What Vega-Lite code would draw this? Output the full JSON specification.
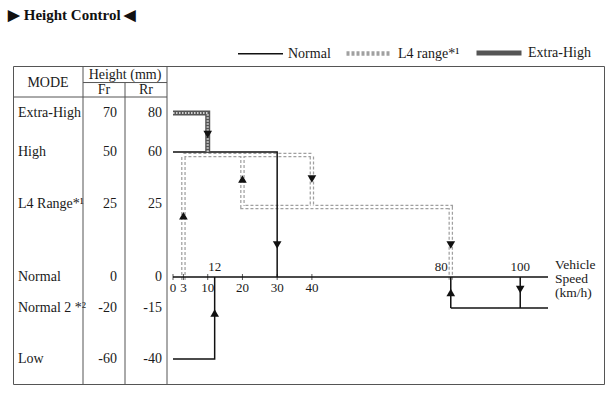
{
  "$schema": "https://vega.github.io/schema/vega-lite/v6.json",
  "width": 591,
  "height": 318,
  "autosize": {"type": "none"},
  "padding": {"left": 13, "top": 66, "right": 10, "bottom": 9},
  "background": "white",
  "title": {"text": "▶ Height Control ◀", "anchor": "start", "frame": "group", "font": "Liberation Serif", "fontSize": 15, "fontWeight": "bold", "color": "#111", "offset": 5, "dx": -5},
  "config": {
    "view": {"stroke": "#555", "strokeWidth": 1},
    "text": {"font": "Liberation Serif", "fontSize": 14, "color": "#1a1a1a", "baseline": "middle"},
    "legend": {"labelFont": "Liberation Serif", "labelFontSize": 14, "labelColor": "#1a1a1a"}
  },
  "datasets": {
    "paths": [
      {"s": "Normal", "p": "ax", "i": 0, "v": 0, "h": 0},
      {"s": "Normal", "p": "ax", "i": 1, "v": 108, "h": 0},
      {"s": "Normal", "p": "n1", "i": 0, "v": 0, "h": 50},
      {"s": "Normal", "p": "n1", "i": 1, "v": 30, "h": 50},
      {"s": "Normal", "p": "n1", "i": 2, "v": 30, "h": 0},
      {"s": "Normal", "p": "n2", "i": 0, "v": 0, "h": -60},
      {"s": "Normal", "p": "n2", "i": 1, "v": 12, "h": -60},
      {"s": "Normal", "p": "n2", "i": 2, "v": 12, "h": 0},
      {"s": "Normal", "p": "n3", "i": 0, "v": 80, "h": 0},
      {"s": "Normal", "p": "n3", "i": 1, "v": 80, "h": -20},
      {"s": "Normal", "p": "n3", "i": 2, "v": 108, "h": -20},
      {"s": "Normal", "p": "n4", "i": 0, "v": 100, "h": 0},
      {"s": "Normal", "p": "n4", "i": 1, "v": 100, "h": -20},
      {"s": "L4 range*¹", "p": "l1", "i": 0, "v": 3, "h": 0},
      {"s": "L4 range*¹", "p": "l1", "i": 1, "v": 3, "h": 50},
      {"s": "L4 range*¹", "p": "l1", "i": 2, "v": 40, "h": 50},
      {"s": "L4 range*¹", "p": "l1", "i": 3, "v": 40, "h": 25},
      {"s": "L4 range*¹", "p": "l2", "i": 0, "v": 20, "h": 50},
      {"s": "L4 range*¹", "p": "l2", "i": 1, "v": 20, "h": 25},
      {"s": "L4 range*¹", "p": "l2", "i": 2, "v": 80, "h": 25},
      {"s": "L4 range*¹", "p": "l2", "i": 3, "v": 80, "h": 0},
      {"s": "Extra-High", "p": "e1", "i": 0, "v": 0, "h": 70},
      {"s": "Extra-High", "p": "e1", "i": 1, "v": 10, "h": 70},
      {"s": "Extra-High", "p": "e1", "i": 2, "v": 10, "h": 50}
    ],
    "arrows": [
      {"v": 10, "h": 59, "dir": "down"},
      {"v": 3, "h": 21, "dir": "up"},
      {"v": 20, "h": 37, "dir": "up"},
      {"v": 40, "h": 37, "dir": "down"},
      {"v": 30, "h": 11, "dir": "down"},
      {"v": 80, "h": 11, "dir": "down"},
      {"v": 12, "h": -24, "dir": "up"},
      {"v": 80, "h": -10, "dir": "up"},
      {"v": 100, "h": -8, "dir": "down"}
    ],
    "ticks": [{"v": 0}, {"v": 3}, {"v": 10}, {"v": 20}, {"v": 30}, {"v": 40}],
    "modes": [
      {"mode": "Extra-High", "fr": 70, "rr": 80},
      {"mode": "High", "fr": 50, "rr": 60},
      {"mode": "L4 Range*¹", "fr": 25, "rr": 25},
      {"mode": "Normal", "fr": 0, "rr": 0},
      {"mode": "Normal 2 *²", "fr": -20, "rr": -15},
      {"mode": "Low", "fr": -60, "rr": -40}
    ]
  },
  "resolve": {"scale": {"x": "independent"}},
  "layer": [
    {
      "layer": [
        {
          "data": {"name": "modes"},
          "mark": {"type": "text", "align": "left", "dx": 5},
          "encoding": {
            "x": {"datum": 0, "type": "quantitative", "scale": {"domain": [0, 11], "range": [0, 154], "nice": false, "zero": false}, "axis": null},
            "y": {"field": "fr", "type": "quantitative", "scale": {"domain": [-80, -60, -20, 0, 25, 50, 70, 85, 100], "range": [318, 293, 242, 211, 138, 86, 47, 31, 0], "nice": false, "zero": false}, "axis": null},
            "text": {"field": "mode"}
          }
        },
        {
          "data": {"name": "modes"},
          "mark": {"type": "text", "align": "right", "dx": -8},
          "encoding": {
            "x": {"datum": 8, "type": "quantitative", "scale": {"domain": [0, 11], "range": [0, 154], "nice": false, "zero": false}, "axis": null},
            "y": {"field": "fr", "type": "quantitative", "scale": {"domain": [-80, -60, -20, 0, 25, 50, 70, 85, 100], "range": [318, 293, 242, 211, 138, 86, 47, 31, 0], "nice": false, "zero": false}, "axis": null},
            "text": {"field": "fr"}
          }
        },
        {
          "data": {"name": "modes"},
          "mark": {"type": "text", "align": "right", "dx": -5},
          "encoding": {
            "x": {"datum": 11, "type": "quantitative", "scale": {"domain": [0, 11], "range": [0, 154], "nice": false, "zero": false}, "axis": null},
            "y": {"field": "fr", "type": "quantitative", "scale": {"domain": [-80, -60, -20, 0, 25, 50, 70, 85, 100], "range": [318, 293, 242, 211, 138, 86, 47, 31, 0], "nice": false, "zero": false}, "axis": null},
            "text": {"field": "rr"}
          }
        },
        {
          "data": {"values": [{"label": "MODE"}]},
          "mark": {"type": "text", "align": "center", "fontSize": 14},
          "encoding": {
            "x": {"datum": 2.5, "type": "quantitative", "scale": {"domain": [0, 11], "range": [0, 154], "nice": false, "zero": false}, "axis": null},
            "y": {"datum": 92, "type": "quantitative", "scale": {"domain": [-80, -60, -20, 0, 25, 50, 70, 85, 100], "range": [318, 293, 242, 211, 138, 86, 47, 31, 0], "nice": false, "zero": false}, "axis": null},
            "text": {"field": "label"}
          }
        },
        {
          "data": {"values": [{"label": "Height (mm)"}]},
          "mark": {"type": "text", "align": "center", "fontSize": 14},
          "encoding": {
            "x": {"datum": 8, "type": "quantitative", "scale": {"domain": [0, 11], "range": [0, 154], "nice": false, "zero": false}, "axis": null},
            "y": {"datum": 95.6, "type": "quantitative", "scale": {"domain": [-80, -60, -20, 0, 25, 50, 70, 85, 100], "range": [318, 293, 242, 211, 138, 86, 47, 31, 0], "nice": false, "zero": false}, "axis": null},
            "text": {"field": "label"}
          }
        },
        {
          "data": {"values": [{"label": "Fr", "c": 6.5}, {"label": "Rr", "c": 9.5}]},
          "mark": {"type": "text", "align": "center", "fontSize": 14},
          "encoding": {
            "x": {"field": "c", "type": "quantitative", "scale": {"domain": [0, 11], "range": [0, 154], "nice": false, "zero": false}, "axis": null},
            "y": {"datum": 88.4, "type": "quantitative", "scale": {"domain": [-80, -60, -20, 0, 25, 50, 70, 85, 100], "range": [318, 293, 242, 211, 138, 86, 47, 31, 0], "nice": false, "zero": false}, "axis": null},
            "text": {"field": "label"}
          }
        },
        {
          "data": {"values": [{"c": 5}, {"c": 11}]},
          "mark": {"type": "rule", "color": "#555", "strokeWidth": 1},
          "encoding": {
            "x": {"field": "c", "type": "quantitative", "scale": {"domain": [0, 11], "range": [0, 154], "nice": false, "zero": false}, "axis": null},
            "y": {"datum": -80, "type": "quantitative", "scale": {"domain": [-80, -60, -20, 0, 25, 50, 70, 85, 100], "range": [318, 293, 242, 211, 138, 86, 47, 31, 0], "nice": false, "zero": false}, "axis": null},
            "y2": {"datum": 100}
          }
        },
        {
          "data": {"values": [{"c": 8}]},
          "mark": {"type": "rule", "color": "#555", "strokeWidth": 1},
          "encoding": {
            "x": {"field": "c", "type": "quantitative", "scale": {"domain": [0, 11], "range": [0, 154], "nice": false, "zero": false}, "axis": null},
            "y": {"datum": -80, "type": "quantitative", "scale": {"domain": [-80, -60, -20, 0, 25, 50, 70, 85, 100], "range": [318, 293, 242, 211, 138, 86, 47, 31, 0], "nice": false, "zero": false}, "axis": null},
            "y2": {"datum": 92}
          }
        },
        {
          "data": {"values": [{"a": 0, "b": 11, "r": 85}, {"a": 5, "b": 11, "r": 92}]},
          "mark": {"type": "rule", "color": "#555", "strokeWidth": 1},
          "encoding": {
            "x": {"field": "a", "type": "quantitative", "scale": {"domain": [0, 11], "range": [0, 154], "nice": false, "zero": false}, "axis": null},
            "x2": {"field": "b"},
            "y": {"field": "r", "type": "quantitative", "scale": {"domain": [-80, -60, -20, 0, 25, 50, 70, 85, 100], "range": [318, 293, 242, 211, 138, 86, 47, 31, 0], "nice": false, "zero": false}, "axis": null}
          }
        }
      ]
    },
    {
      "layer": [
        {
          "data": {"name": "paths"},
          "transform": [{"filter": "datum.s === 'L4 range*¹'"}],
          "mark": {"type": "line", "yOffset": 3, "strokeJoin": "miter", "strokeCap": "butt"},
          "encoding": {
            "x": {"field": "v", "type": "quantitative", "scale": {"domain": [0, 108], "range": [160, 535], "nice": false, "zero": false}, "axis": null},
            "y": {"field": "h", "type": "quantitative", "scale": {"domain": [-80, -60, -20, 0, 25, 50, 70, 85, 100], "range": [318, 293, 242, 211, 138, 86, 47, 31, 0], "nice": false, "zero": false}, "axis": null},
            "detail": {"field": "p"},
            "order": {"field": "i"},
            "stroke": {"field": "s", "type": "nominal", "scale": {"domain": ["Normal", "L4 range*¹", "Extra-High"], "range": ["#111111", "#a0a0a0", "#555555"]},
              "legend": {"orient": "none", "legendX": 224, "legendY": -38, "direction": "horizontal", "title": null, "symbolType": "stroke", "symbolSize": 2025, "columnPadding": 6, "labelOffset": 4, "padding": 0}},
            "strokeDash": {"field": "s", "type": "nominal", "scale": {"domain": ["Normal", "L4 range*¹", "Extra-High"], "range": [[1, 0], [3, 2], [1, 0]]}},
            "strokeWidth": {"field": "s", "type": "nominal", "scale": {"type": "ordinal", "domain": ["Normal", "L4 range*¹", "Extra-High"], "range": [1.5, 4.5, 5]}}
          }
        },
        {
          "data": {"name": "paths"},
          "transform": [{"filter": "datum.s === 'L4 range*¹'"}],
          "mark": {"type": "line", "yOffset": 3, "color": "white", "strokeWidth": 2, "strokeJoin": "miter"},
          "encoding": {
            "x": {"field": "v", "type": "quantitative", "scale": {"domain": [0, 108], "range": [160, 535], "nice": false, "zero": false}, "axis": null},
            "y": {"field": "h", "type": "quantitative", "scale": {"domain": [-80, -60, -20, 0, 25, 50, 70, 85, 100], "range": [318, 293, 242, 211, 138, 86, 47, 31, 0], "nice": false, "zero": false}, "axis": null},
            "detail": {"field": "p"},
            "order": {"field": "i"}
          }
        },
        {
          "data": {"name": "paths"},
          "transform": [{"filter": "datum.s !== 'L4 range*¹'"}],
          "mark": {"type": "line", "strokeJoin": "miter", "strokeCap": "butt"},
          "encoding": {
            "x": {"field": "v", "type": "quantitative", "scale": {"domain": [0, 108], "range": [160, 535], "nice": false, "zero": false}, "axis": null},
            "y": {"field": "h", "type": "quantitative", "scale": {"domain": [-80, -60, -20, 0, 25, 50, 70, 85, 100], "range": [318, 293, 242, 211, 138, 86, 47, 31, 0], "nice": false, "zero": false}, "axis": null},
            "detail": {"field": "p"},
            "order": {"field": "i"},
            "stroke": {"field": "s", "type": "nominal", "scale": {"domain": ["Normal", "L4 range*¹", "Extra-High"], "range": ["#111111", "#a0a0a0", "#555555"]}},
            "strokeDash": {"field": "s", "type": "nominal", "scale": {"domain": ["Normal", "L4 range*¹", "Extra-High"], "range": [[1, 0], [3, 2], [1, 0]]}},
            "strokeWidth": {"field": "s", "type": "nominal", "scale": {"type": "ordinal", "domain": ["Normal", "L4 range*¹", "Extra-High"], "range": [1.5, 4.5, 5]}}
          }
        },
        {
          "data": {"name": "paths"},
          "transform": [{"filter": "datum.s === 'Extra-High'"}],
          "mark": {"type": "line", "color": "#d0d0d0", "strokeWidth": 2.2, "strokeDash": [1.5, 1.5], "strokeJoin": "miter"},
          "encoding": {
            "x": {"field": "v", "type": "quantitative", "scale": {"domain": [0, 108], "range": [160, 535], "nice": false, "zero": false}, "axis": null},
            "y": {"field": "h", "type": "quantitative", "scale": {"domain": [-80, -60, -20, 0, 25, 50, 70, 85, 100], "range": [318, 293, 242, 211, 138, 86, 47, 31, 0], "nice": false, "zero": false}, "axis": null},
            "detail": {"field": "p"},
            "order": {"field": "i"}
          }
        },
        {
          "data": {"name": "ticks"},
          "mark": {"type": "tick", "orient": "vertical", "color": "#111", "thickness": 1, "size": 6},
          "encoding": {
            "x": {"field": "v", "type": "quantitative", "scale": {"domain": [0, 108], "range": [160, 535], "nice": false, "zero": false}, "axis": null},
            "y": {"datum": 0, "type": "quantitative", "scale": {"domain": [-80, -60, -20, 0, 25, 50, 70, 85, 100], "range": [318, 293, 242, 211, 138, 86, 47, 31, 0], "nice": false, "zero": false}, "axis": null}
          }
        },
        {
          "data": {"name": "ticks"},
          "mark": {"type": "text", "align": "center", "dy": 11, "fontSize": 13},
          "encoding": {
            "x": {"field": "v", "type": "quantitative", "scale": {"domain": [0, 108], "range": [160, 535], "nice": false, "zero": false}, "axis": null},
            "y": {"datum": 0, "type": "quantitative", "scale": {"domain": [-80, -60, -20, 0, 25, 50, 70, 85, 100], "range": [318, 293, 242, 211, 138, 86, 47, 31, 0], "nice": false, "zero": false}, "axis": null},
            "text": {"field": "v"}
          }
        },
        {
          "data": {"values": [{"v": 12}, {"v": 100}]},
          "mark": {"type": "text", "align": "center", "dy": -10, "fontSize": 13},
          "encoding": {
            "x": {"field": "v", "type": "quantitative", "scale": {"domain": [0, 108], "range": [160, 535], "nice": false, "zero": false}, "axis": null},
            "y": {"datum": 0, "type": "quantitative", "scale": {"domain": [-80, -60, -20, 0, 25, 50, 70, 85, 100], "range": [318, 293, 242, 211, 138, 86, 47, 31, 0], "nice": false, "zero": false}, "axis": null},
            "text": {"field": "v"}
          }
        },
        {
          "data": {"values": [{"v": 80}]},
          "mark": {"type": "text", "align": "right", "dx": -3, "dy": -10, "fontSize": 13},
          "encoding": {
            "x": {"field": "v", "type": "quantitative", "scale": {"domain": [0, 108], "range": [160, 535], "nice": false, "zero": false}, "axis": null},
            "y": {"datum": 0, "type": "quantitative", "scale": {"domain": [-80, -60, -20, 0, 25, 50, 70, 85, 100], "range": [318, 293, 242, 211, 138, 86, 47, 31, 0], "nice": false, "zero": false}, "axis": null},
            "text": {"field": "v"}
          }
        },
        {
          "data": {"values": [{"label": "Vehicle\nSpeed\n(km/h)"}]},
          "mark": {"type": "text", "align": "left", "dx": 7, "dy": -12, "fontSize": 13.5, "lineBreak": "\n", "lineHeight": 14},
          "encoding": {
            "x": {"datum": 108, "type": "quantitative", "scale": {"domain": [0, 108], "range": [160, 535], "nice": false, "zero": false}, "axis": null},
            "y": {"datum": 0, "type": "quantitative", "scale": {"domain": [-80, -60, -20, 0, 25, 50, 70, 85, 100], "range": [318, 293, 242, 211, 138, 86, 47, 31, 0], "nice": false, "zero": false}, "axis": null},
            "text": {"field": "label"}
          }
        },
        {
          "data": {"name": "arrows"},
          "mark": {"type": "point", "filled": true, "color": "#111", "size": 75, "opacity": 1},
          "encoding": {
            "x": {"field": "v", "type": "quantitative", "scale": {"domain": [0, 108], "range": [160, 535], "nice": false, "zero": false}, "axis": null},
            "y": {"field": "h", "type": "quantitative", "scale": {"domain": [-80, -60, -20, 0, 25, 50, 70, 85, 100], "range": [318, 293, 242, 211, 138, 86, 47, 31, 0], "nice": false, "zero": false}, "axis": null},
            "shape": {"field": "dir", "type": "nominal", "scale": {"domain": ["up", "down"], "range": ["triangle-up", "triangle-down"]}, "legend": null}
          }
        }
      ]
    }
  ]
}
